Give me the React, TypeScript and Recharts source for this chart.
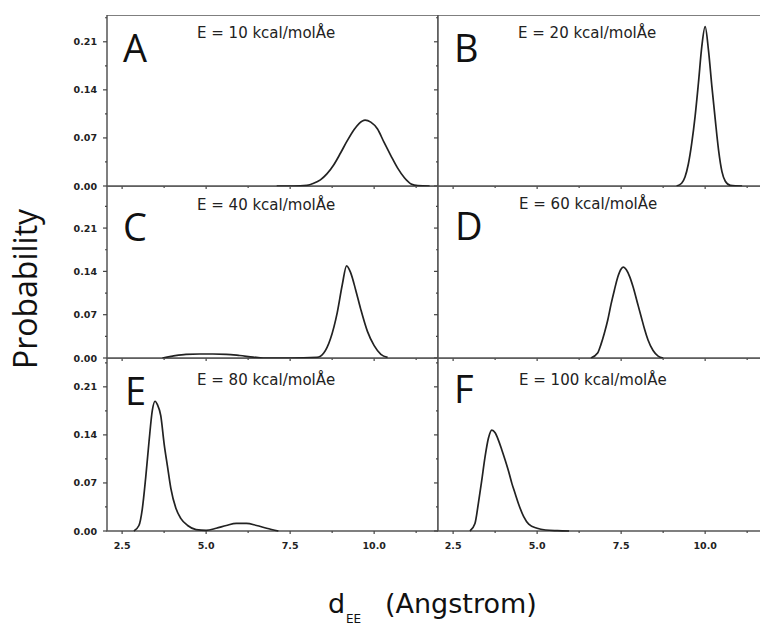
import { LineChart, Line, XAxis, YAxis, ReferenceArea } from 'recharts';

// d_EE axis (Angstrom)
const X_MIN = 2.05;
const X_MAX = 11.9;
const xTicks = [2.5, 3.75, 5, 6.25, 7.5, 8.75, 10, 11.25];
const xMajor = [2.5, 5, 7.5, 10];

// probability axis
const yTicks = [0, 0.035, 0.07, 0.105, 0.14, 0.175, 0.21, 0.245];
const yMajor = [0, 0.07, 0.14, 0.21];
const rowTops = [0.249, 0.278, 0.252];

const letters = ['A', 'B', 'C', 'D', 'E', 'F'];
const energies = [10, 20, 40, 60, 80, 100];

// A: E = 10
const aX = [7.1, 7.6, 8.0, 8.2, 8.4, 8.6, 8.8, 9.0, 9.2, 9.4, 9.55, 9.73, 9.9, 10.1, 10.3, 10.5, 10.7, 10.9, 11.1, 11.3, 11.65];
const aY = [0, 0, 0.001, 0.004, 0.009, 0.018, 0.031, 0.048, 0.066, 0.082, 0.091, 0.096, 0.093, 0.083, 0.063, 0.044, 0.026, 0.012, 0.003, 0.0005, 0];
// B: E = 20
const bX = [9.15, 9.3, 9.4, 9.5, 9.6, 9.7, 9.8, 9.9, 10.0, 10.1, 10.2, 10.3, 10.4, 10.5, 10.6, 10.75, 11.1];
const bY = [0, 0.004, 0.013, 0.032, 0.062, 0.101, 0.15, 0.203, 0.232, 0.197, 0.145, 0.097, 0.052, 0.021, 0.007, 0.001, 0];
// C: E = 40
const cX = [3.7, 4.0, 4.4, 4.8, 5.2, 5.6, 6.0, 6.4, 6.7, 7.5, 8.3, 8.5, 8.7, 8.9, 9.05, 9.18, 9.3, 9.45, 9.6, 9.8, 10.0, 10.2, 10.4];
const cY = [0, 0.003, 0.006, 0.0065, 0.0065, 0.006, 0.004, 0.0015, 0, 0, 0.001, 0.008, 0.031, 0.073, 0.118, 0.149, 0.138, 0.11, 0.079, 0.043, 0.02, 0.006, 0.001];
// D: E = 60
const dX = [6.6, 6.8, 6.9, 7.0, 7.1, 7.2, 7.3, 7.4, 7.5, 7.57, 7.65, 7.75, 7.85, 8.0, 8.1, 8.2, 8.3, 8.45, 8.6, 8.75];
const dY = [0, 0.008, 0.022, 0.04, 0.061, 0.087, 0.11, 0.131, 0.144, 0.147, 0.143, 0.132, 0.116, 0.086, 0.066, 0.046, 0.029, 0.012, 0.003, 0];
// E: E = 80
const eX = [2.85, 3.0, 3.1, 3.2, 3.3, 3.4, 3.48, 3.55, 3.65, 3.75, 3.85, 3.95, 4.1, 4.25, 4.45, 4.7, 5.0, 5.3, 5.6, 5.9, 6.2, 6.5, 6.8, 7.15];
const eY = [0, 0.008, 0.032, 0.077, 0.13, 0.176, 0.189, 0.184, 0.168, 0.127, 0.094, 0.062, 0.033, 0.018, 0.008, 0.002, 0.001, 0.004, 0.008, 0.011, 0.011, 0.008, 0.004, 0];
// F: E = 100
const fX = [3.0, 3.15, 3.25, 3.35, 3.45, 3.55, 3.65, 3.75, 3.85, 3.95, 4.05, 4.15, 4.25, 4.35, 4.45, 4.6, 4.75, 5.0, 5.25, 5.6, 5.95];
const fY = [0, 0.011, 0.04, 0.073, 0.108, 0.135, 0.147, 0.143, 0.132, 0.118, 0.103, 0.087, 0.069, 0.054, 0.039, 0.021, 0.01, 0.004, 0.0015, 0.0005, 0];

const seriesX = [aX, bX, cX, dX, eX, fX];
const seriesY = [aY, bY, cY, dY, eY, fY];

// layout in page pixels
const COL_LEFT = [107, 438];
const PLOT_W = 331;
const ROW_TOP = [15, 186, 358];
const ROW_H = [171, 172, 173];
const Y_AXIS_W = 40;
const X_AXIS_H = 25;

const LETTER_POS = [[123, 62], [454, 62], [123, 241], [455, 240], [125, 405], [454, 403]];
const LABEL_POS = [[197, 38], [518, 38], [197, 210], [519, 209], [197, 385], [519, 385]];

const tickFont = { fontFamily: '"DejaVu Sans", sans-serif', fontWeight: 700, fontSize: 9.5, fill: '#222' };

function XTick({ x, y, payload, show }: any) {
  const v = payload.value;
  const major = xMajor.includes(v);
  return (
    <g>
      <line x1={x} x2={x} y1={y} y2={y + (major ? 3 : 2)} stroke="#444" strokeWidth={1.2} />
      {show && major && (
        <text x={x} y={y + 14} textAnchor="middle" dominantBaseline="central" {...tickFont}>
          {v.toFixed(1)}
        </text>
      )}
    </g>
  );
}

function YTick({ x, y, payload, show }: any) {
  const v = payload.value;
  const major = yMajor.some((m) => Math.abs(m - v) < 1e-9);
  return (
    <g>
      <line x1={x} x2={x - (major ? 4 : 2)} y1={y} y2={y} stroke="#444" strokeWidth={1.2} />
      {show && major && (
        <text x={x - 10} y={y} textAnchor="end" dominantBaseline="central" {...tickFont}>
          {v.toFixed(2)}
        </text>
      )}
    </g>
  );
}

function Panel({ idx }: { idx: number }) {
  const row = Math.floor(idx / 2);
  const col = idx % 2;
  const top = rowTops[row];
  const data = seriesX[idx].map((x, i) => ({ x, y: seriesY[idx][i] }));
  return (
    <div style={{ position: 'absolute', left: COL_LEFT[col] - Y_AXIS_W, top: ROW_TOP[row] }}>
      <LineChart width={Y_AXIS_W + PLOT_W} height={ROW_H[row] + X_AXIS_H} data={data}
        margin={{ top: 0, right: 0, bottom: 0, left: 0 }}>
        <XAxis dataKey="x" type="number" domain={[X_MIN, X_MAX]} ticks={xTicks} interval={0}
          height={X_AXIS_H} axisLine={false} tickLine={false} tickSize={0} tickMargin={0}
          tick={(p: any) => <XTick {...p} show={row === 2} />} />
        <YAxis type="number" domain={[0, top]} ticks={yTicks.filter((t) => t <= top)} interval={0}
          width={Y_AXIS_W} axisLine={false} tickLine={false} tickSize={0} tickMargin={0}
          tick={(p: any) => <YTick {...p} show={col === 0} />} />
        <ReferenceArea x1={X_MIN} x2={X_MAX} y1={0} y2={top} fill="none" fillOpacity={0}
          stroke="#555" strokeWidth={1.5} />
        <Line type="monotone" dataKey="y" stroke="#222" strokeWidth={1.7} dot={false}
          isAnimationActive={false} />
      </LineChart>
    </div>
  );
}

export default function App() {
  return (
    <div style={{ position: 'absolute', left: 0, top: 0, width: 760, height: 628, overflow: 'hidden', background: '#fff' }}>
      {letters.map((_, i) => <Panel key={i} idx={i} />)}
      <svg width={760} height={628} style={{ position: 'absolute', left: 0, top: 0, pointerEvents: 'none' }}>
        {letters.map((l, i) => (
          <text key={l} x={LETTER_POS[i][0]} y={LETTER_POS[i][1]} fontFamily='"Open Sans", sans-serif'
            fontSize={38} fill="#111">{l}</text>
        ))}
        {energies.map((e, i) => (
          <text key={e} x={LABEL_POS[i][0]} y={LABEL_POS[i][1]} fontFamily='"DejaVu Sans", sans-serif'
            fontSize={15} fill="#222">{`E = ${e} kcal/molÅe`}</text>
        ))}
        <text transform="translate(37,289) rotate(-90)" textAnchor="middle"
          fontFamily='"Open Sans", sans-serif' fontSize={32} fill="#111">Probability</text>
        <text x={328} y={613} fontFamily='"DejaVu Sans", sans-serif' fontSize={27} fill="#111">d</text>
        <text x={346} y={623} fontFamily='"DejaVu Sans", sans-serif' fontSize={12} fill="#111">EE</text>
        <text x={385} y={613} fontFamily='"DejaVu Sans", sans-serif' fontSize={27} fill="#111">(Angstrom)</text>
      </svg>
    </div>
  );
}
